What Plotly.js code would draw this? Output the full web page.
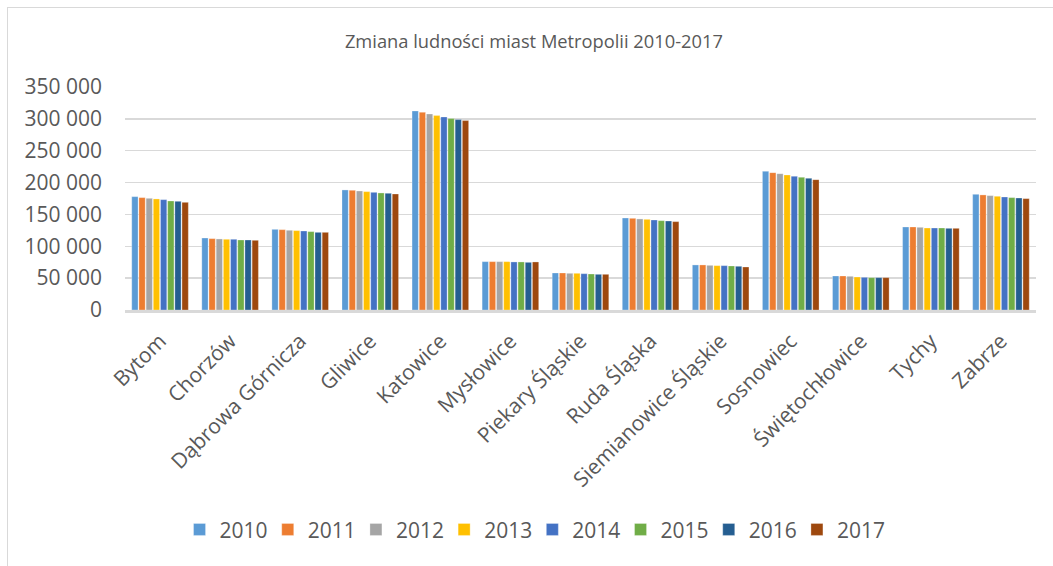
<!DOCTYPE html>
<html>
<head>
<meta charset="utf-8">
<script src="https://cdn.plot.ly/plotly-3.0.1.min.js"></script>
<style>
html,body{margin:0;padding:0;background:#fff;}
#wrap{position:relative;width:1053px;height:566px;}
#chart{width:1053px;height:566px;}
#frame{position:absolute;left:7px;top:7px;right:0;bottom:0;border-left:1px solid #d9d9d9;border-top:1px solid #d9d9d9;pointer-events:none;}
</style>
</head>
<body>
<div id="wrap"><div id="chart"></div><div id="frame"></div></div>
<script>
const cities = ["Bytom","Chorzów","Dąbrowa Górnicza","Gliwice","Katowice","Mysłowice","Piekary Śląskie","Ruda Śląska","Siemianowice Śląskie","Sosnowiec","Świętochłowice","Tychy","Zabrze"];
const years = ["2010","2011","2012","2013","2014","2015","2016","2017"];
const colors = ["#5B9BD5","#ED7D31","#A5A5A5","#FFC000","#4472C4","#70AD47","#255E91","#9E480E"];

const v2010 = [177900,113000,126600,188400,312400,75900,58100,144400,70700,217700,53400,130300,181600];
const v2011 = [176400,112000,126100,187900,310300,75900,58100,143900,70700,215600,53400,130300,180600];
const v2012 = [175300,111500,125100,186800,307700,75900,57600,142900,70100,214000,52900,129800,179500];
const v2013 = [174300,111000,124600,185800,305100,75900,57600,142300,69600,212000,51800,128700,178500];
const v2014 = [173200,111000,124000,184700,303000,75400,57000,141300,69600,209900,51300,128700,177400];
const v2015 = [171100,109900,123000,183700,300400,75400,56500,140200,69100,208300,50800,128700,176400];
const v2016 = [170600,109900,121900,183200,298800,74800,56000,139700,68600,206700,50800,128200,175800];
const v2017 = [169000,109400,121900,182100,297300,75400,56000,138700,67500,204600,50800,128200,174800];
const series = [v2010,v2011,v2012,v2013,v2014,v2015,v2016,v2017];

const traces = series.map((vals, i) => ({
  type: "bar",
  name: years[i],
  x: cities,
  y: vals,
  marker: {color: colors[i], line: {color: "rgba(255,255,255,0.6)", width: 0.5}},
  hoverinfo: "x+y+name"
}));

const font = "Open Sans, Calibri, Carlito, sans-serif";
const layout = {
  width: 1053, height: 566,
  margin: {l: 125, r: 17, t: 87, b: 256},
  paper_bgcolor: "#fff", plot_bgcolor: "#fff",
  separators: ", ",
  font: {family: font, color: "#595959", size: 21},
  title: {text: "Zmiana ludności miast Metropolii 2010-2017", font: {family: font, size: 18.3, color: "#595959"}, x: 0.507, xref: "container", xanchor: "center", y: 0.926, yref: "container", yanchor: "middle"},
  barmode: "group",
  bargap: 0.18,
  bargroupgap: 0.12,
  xaxis: {
    type: "category",
    tickangle: -45,
    tickfont: {size: 21, color: "#595959"},
    showline: true, linecolor: "#d9d9d9", linewidth: 2.5,
    showgrid: false, ticks: "", zeroline: false,
    ticklabelstandoff: 8,
    automargin: false
  },
  yaxis: {
    range: [0, 350000],
    dtick: 50000,
    tickformat: ",d",
    tickfont: {size: 21, color: "#595959"},
    showgrid: true, gridcolor: "#d9d9d9", gridwidth: 1.5,
    zeroline: false, showline: false, ticks: "",
    ticklabelstandoff: 22,
    automargin: false
  },
  showlegend: true,
  legend: {
    orientation: "h",
    x: 0.1705, xref: "container", xanchor: "left",
    y: 0.064, yref: "container", yanchor: "middle",
    font: {size: 21, color: "#595959"},
    entrywidth: 43.2,
    entrywidthmode: "pixels",
    traceorder: "normal"
  }
};

Plotly.newPlot("chart", traces, layout, {displayModeBar: false, staticPlot: true});
</script>
</body>
</html>
